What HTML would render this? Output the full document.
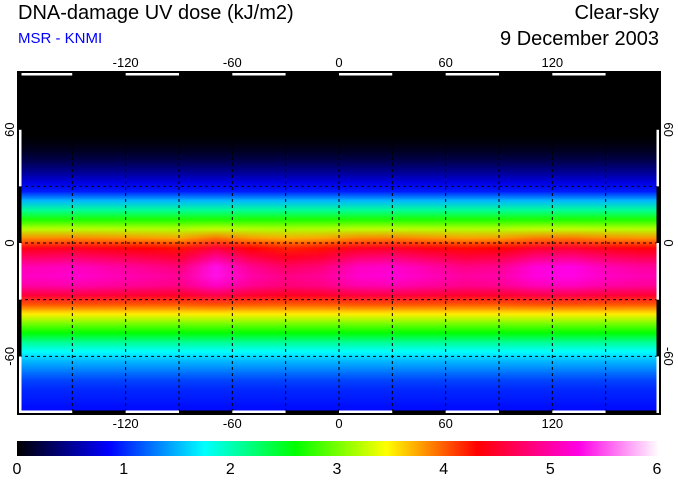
<!DOCTYPE html>
<html><head><meta charset="utf-8"><style>
body{margin:0;background:#fff;width:678px;height:480px;overflow:hidden;font-family:"Liberation Sans",sans-serif;position:relative}
.t{position:absolute;white-space:nowrap}
</style></head><body>
<div class="t" style="left:18px;top:2px;font-size:20px">DNA-damage UV dose (kJ/m2)</div>
<div class="t" style="left:18px;top:30px;font-size:15px;color:#00f">MSR - KNMI</div>
<div class="t" style="right:19px;top:2px;font-size:20px">Clear-sky</div>
<div class="t" style="right:19px;top:28px;font-size:20px">9 December 2003</div>
<canvas id="map" width="640" height="340" style="position:absolute;left:19px;top:73px;width:640px;height:340px"></canvas>
<svg id="ov" width="678" height="480" style="position:absolute;left:0;top:0"></svg>
<script>
// latitude band centres (deg) and zonal UV dose (kJ/m2)
const lats=[87.5,82.5,77.5,72.5,67.5,62.5,57.5,52.5,47.5,42.5,37.5,32.5,27.5,22.5,17.5,12.5,7.5,2.5,-2.5,-7.5,-12.5,-17.5,-22.5,-27.5,-32.5,-37.5,-42.5,-47.5,-52.5,-57.5,-62.5,-67.5,-72.5,-77.5,-82.5,-87.5];
const zonal=[0,0,0,0,0,0,0,0.05,0.15,0.3,0.5,0.75,0.95,1.5,2.1,2.7,3.2,3.8,4.3,4.6,4.9,5.0,4.9,4.5,4.0,3.5,3.0,2.6,2.1,1.75,1.5,1.3,1.1,1.0,0.95,0.9];
// longitude column centres and tropical anomaly
const lons=[-170,-150,-130,-110,-90,-70,-50,-30,-10,10,30,50,70,90,110,130,150,170];
const tropAnom=[0.15,0.2,0.1,0.0,-0.1,0.4,0.0,-0.2,-0.1,0.2,0.25,0.1,-0.05,0.0,0.3,0.35,0.15,0.05];
const cbTicks=[0,1,2,3,4,5,6];
const lonTicks=[-120,-60,0,60,120];
const latTicks=[60,0,-60];
const stops=[[0,[0,0,0]],[0.86,[0,0,255]],[1.75,[0,255,255]],[2.6,[0,255,0]],[3.45,[255,255,0]],[4.3,[255,0,0]],[5.25,[255,0,230]],[6,[255,255,255]]];
function cmap(v){v=Math.max(0,Math.min(6,v));for(let i=1;i<stops.length;i++){if(v<=stops[i][0]){const a=stops[i-1],b=stops[i],t=(v-a[0])/(b[0]-a[0]);return a[1].map((c,k)=>Math.round(c+(b[1][k]-c)*t));}}return [255,255,255];}
const X0=19,W=640,Y0=73,H=340;
const xs=lon=>X0+(lon+180)/360*W, ys=lat=>Y0+(90-lat)/180*H;
const small=document.createElement('canvas');small.width=lons.length;small.height=lats.length;
const sc=small.getContext('2d');const img=sc.createImageData(lons.length,lats.length);
lats.forEach((la,i)=>{const w=Math.max(0,1-Math.abs(la+12)/22);lons.forEach((lo,j)=>{const v=zonal[i]+tropAnom[j]*w;const c=cmap(v);const p=(i*lons.length+j)*4;img.data[p]=c[0];img.data[p+1]=c[1];img.data[p+2]=c[2];img.data[p+3]=255;});});
sc.putImageData(img,0,0);
const ctx=document.getElementById('map').getContext('2d');ctx.imageSmoothingEnabled=true;ctx.drawImage(small,0,0,640,340);
const NS='http://www.w3.org/2000/svg',ov=document.getElementById('ov');
function mk(t,a,p){const e=document.createElementNS(NS,t);for(const k in a)e.setAttribute(k,a[k]);(p||ov).appendChild(e);return e;}
for(let lo=-150;lo<180;lo+=30){const l=mk('line',{x1:xs(lo),x2:xs(lo),y1:Y0,y2:Y0+H,stroke:'#000','stroke-width':1,'stroke-dasharray':'3,3'});

}
for(let la=-60;la<=60;la+=30){const l=mk('line',{x1:X0,x2:X0+W,y1:ys(la),y2:ys(la),stroke:'#000','stroke-width':1,'stroke-dasharray':'3,3'});

}
for(let k=0;k<12;k++){const lo=-180+k*30;const col=k%2==0?'#fff':'#000';
for(const y of [Y0+1,Y0+H-1]){const s=mk('line',{x1:xs(lo),x2:xs(lo+30),y1:y,y2:y,stroke:col,'stroke-width':3});

}}
for(let k=0;k<6;k++){const la=-90+k*30;const col=k%2==0?'#fff':'#000';
for(const x of [X0+1,X0+W-1]){const s=mk('line',{x1:x,x2:x,y1:ys(la),y2:ys(la+30),stroke:col,'stroke-width':3});

}}
mk('rect',{x:X0-1,y:Y0-1,width:W+2,height:H+2,fill:'none',stroke:'#000','stroke-width':2});
lonTicks.forEach(v=>{for(const y of [67,428]){const t=mk('text',{x:xs(v),y:y,'text-anchor':'middle','font-size':13,'font-family':'Liberation Sans'});t.textContent=v;

}});
latTicks.forEach(v=>{const y=ys(v);
const t=mk('text',{x:0,y:0,'text-anchor':'middle','font-size':13,'font-family':'Liberation Sans',transform:`translate(14,${y}) rotate(-90)`});t.textContent=v;


const r=mk('text',{x:0,y:0,'text-anchor':'middle','font-size':13,'font-family':'Liberation Sans',transform:`translate(664,${y}) rotate(90)`});r.textContent=v;

});
const g=mk('linearGradient',{id:'cb'},mk('defs',{}));
stops.forEach(s=>mk('stop',{offset:(s[0]/6*100)+'%','stop-color':`rgb(${s[1].join(',')})`},g));
const cb=mk('rect',{x:17,y:441,width:642,height:15,fill:'url(#cb)'});


cbTicks.forEach(v=>{const t=mk('text',{x:17+v/6*640,y:474,'text-anchor':'middle','font-size':16,'font-family':'Liberation Sans'});t.textContent=v;

});
</script>
</body></html>
